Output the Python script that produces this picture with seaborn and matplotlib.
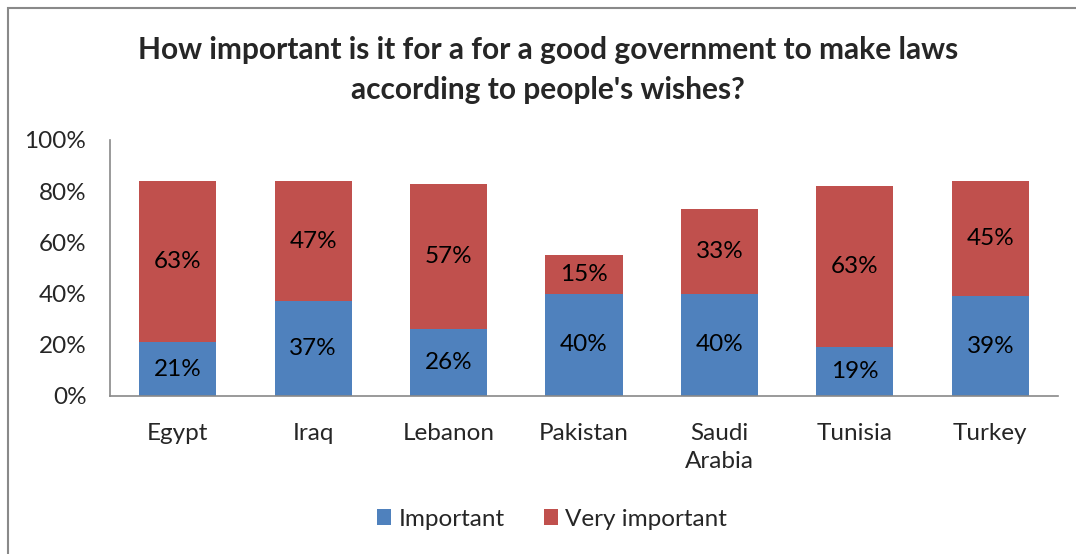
import matplotlib
matplotlib.use("Agg")
import matplotlib.pyplot as plt
import seaborn as sns
import pandas as pd
from matplotlib.patches import Rectangle, Patch

countries = ["Egypt", "Iraq", "Lebanon", "Pakistan", "Saudi\nArabia", "Tunisia", "Turkey"]
important = [21, 37, 26, 40, 40, 19, 39]
very_important = [63, 47, 57, 15, 33, 63, 45]
series_names = ["Important", "Very important"]
colors = ["#4F81BD", "#C0504D"]
title = "How important is it for a for a good government to make laws\naccording to people's wishes?"

sns.set_theme(style="white")
plt.rcParams["font.family"] = ["Lato", "DejaVu Sans"]

df = pd.DataFrame({"country": countries, "important": important, "very": very_important})

fig = plt.figure(figsize=(10.76, 5.54), dpi=100)
ax = fig.add_axes([110/1076, 1 - 396/554, (1058 - 110)/1076, (396 - 140)/554])

sns.barplot(data=df, x="country", y="important", color=colors[0], width=0.57,
            saturation=1, ax=ax, linewidth=0)
sns.barplot(data=df, x="country", y="very", color=colors[1], width=0.57,
            saturation=1, ax=ax, linewidth=0, bottom=df["important"])

fs = 17.5
for i, (a, b) in enumerate(zip(important, very_important)):
    ax.text(i, a / 2, f"{a}%", ha="center", va="center", fontsize=fs, color="black")
    ax.text(i, a + b / 2, f"{b}%", ha="center", va="center", fontsize=fs, color="black")

ax.set_ylim(0, 100)
ax.set_yticks([0, 20, 40, 60, 80, 100])
ax.set_yticklabels([f"{v}%" for v in [0, 20, 40, 60, 80, 100]], fontsize=fs)
ax.set_xlim(-0.5, len(countries) - 0.5)
ax.set_xlabel("")
ax.set_ylabel("")
ax.tick_params(axis="x", labelsize=fs, pad=19.5, length=0)
ax.tick_params(axis="y", pad=17, length=0)
for lbl in ax.get_xticklabels():
    lbl.set_verticalalignment("top")
    lbl.set_linespacing(1.4)
for s in ["top", "right"]:
    ax.spines[s].set_visible(False)
for s in ["left", "bottom"]:
    ax.spines[s].set_color("#898989")
    ax.spines[s].set_linewidth(1.2)

fig.text(548/1076, 1 - 70/554, title, ha="center", va="center", fontsize=21.5,
         fontweight="bold", linespacing=1.52)

handles = [Patch(facecolor=c, edgecolor="none") for c in colors]
fig.legend(handles, series_names, loc="center", bbox_to_anchor=(552/1076, 1 - 519/554),
           ncol=2, frameon=False, fontsize=fs, handlelength=0.6, handleheight=0.6,
           handletextpad=0.3, columnspacing=1.6)

fig.patches.append(Rectangle((8/1076, -0.1), 1.2, 1.1 - 8/554, transform=fig.transFigure,
                             fill=False, edgecolor="#898989", linewidth=1.5))

fig.savefig("out.png", dpi=100)
